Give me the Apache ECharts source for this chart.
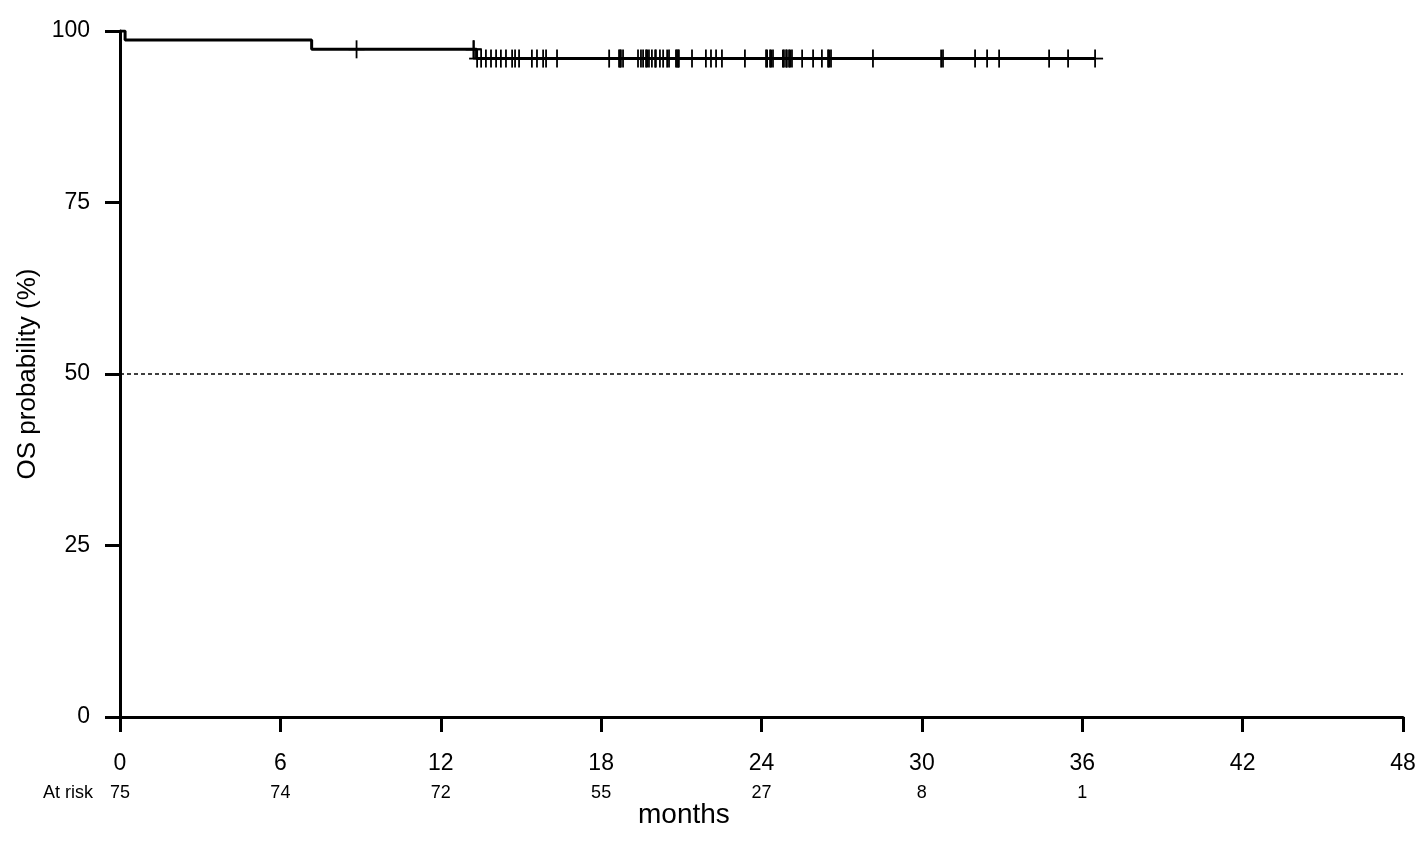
<!DOCTYPE html>
<html>
<head>
<meta charset="utf-8">
<script src="https://cdn.jsdelivr.net/npm/echarts@6/dist/echarts.min.js"></script>
<style>
html,body{margin:0;padding:0;background:#fff;}
#chart{width:1421px;height:851px;}
</style>
</head>
<body>
<div id="chart"></div>
<script>
// Kaplan-Meier step points: [months, OS %]
var kmTimes = [0, 0.19, 7.17, 13.34, 36.48];
var kmSurv  = [100, 98.67, 97.33, 95.98, 95.98];

// censoring times (months)
var censorTimes = [
  8.85, 13.22,
  13.24, 13.36, 13.51, 13.69, 13.88, 14.07, 14.25, 14.44, 14.67, 14.78, 14.93,
  15.41, 15.60, 15.83, 15.94, 16.35,
  18.30, 18.67, 18.71, 18.74, 18.82, 19.38, 19.49, 19.57, 19.68, 19.72, 19.79,
  19.90, 20.02, 20.05, 20.20, 20.32, 20.47, 20.54, 20.80, 20.84, 20.88, 20.91,
  21.40, 21.92, 22.11, 22.30, 22.52, 23.38,
  24.17, 24.21, 24.32, 24.36, 24.43, 24.80, 24.84, 24.92, 24.95, 25.03, 25.07,
  25.14, 25.52, 25.93, 26.26, 26.49, 26.53, 26.60, 28.17,
  30.72, 30.79, 31.99, 32.44, 32.89, 34.76, 35.47, 36.48
];

var xTicks = [0, 6, 12, 18, 24, 30, 36, 42, 48];
var atRisk = [75, 74, 72, 55, 27, 8, 1];
var yTicks = [0, 25, 50, 75, 100];

function survAt(t) {
  var s = kmSurv[0];
  for (var i = 0; i < kmTimes.length; i++) {
    if (kmTimes[i] < t) s = kmSurv[i];
  }
  return s;
}

var kmData = kmTimes.map(function (t, i) { return [t, kmSurv[i]]; });
var censorData = censorTimes.map(function (t) { return [t, survAt(t)]; });

var FONT = '"Liberation Sans", Arial, sans-serif';
var chart = echarts.init(document.getElementById('chart'), null, {renderer: 'canvas'});

chart.setOption({
  backgroundColor: '#fff',
  animation: false,
  grid: {left: 120, right: 18, top: 31, bottom: 134, containLabel: false},
  xAxis: [{
    type: 'value', min: 0, max: 48, interval: 6,
    axisLine: {show: true, onZero: false, lineStyle: {color: '#000', width: 3}},
    axisTick: {show: true, inside: false, length: 15, lineStyle: {color: '#000', width: 3}},
    axisLabel: {color: '#000', fontSize: 23, fontFamily: FONT, margin: 35},
    splitLine: {show: false}
  }, {
    type: 'value', min: 0, max: 48, interval: 6, position: 'bottom', offset: 67,
    axisLine: {show: false}, axisTick: {show: false}, splitLine: {show: false},
    axisLabel: {
      color: '#000', fontSize: 18, fontFamily: FONT, margin: 0,
      formatter: function (v) { var i = xTicks.indexOf(v); return (i >= 0 && i < atRisk.length) ? String(atRisk[i]) : ''; }
    }
  }],
  yAxis: {
    type: 'value', min: 0, max: 100, interval: 25,
    axisLine: {show: true, onZero: false, lineStyle: {color: '#000', width: 3}},
    axisTick: {show: true, inside: false, length: 15, lineStyle: {color: '#000', width: 3}},
    axisLabel: {color: '#000', fontSize: 23, fontFamily: FONT, margin: 30},
    splitLine: {show: false},
    name: 'OS probability (%)', nameLocation: 'middle', nameGap: 79,
    nameTextStyle: {color: '#000', fontSize: 26, fontFamily: FONT}
  },
  graphic: [{
    type: 'text', right: 1328, top: 784,
    style: {text: 'At risk', fill: '#000', font: '18px ' + FONT, textAlign: 'right'}
  }, {
    type: 'text', left: 638, top: 801,
    style: {text: 'months', fill: '#000', font: '28px ' + FONT}
  }],
  series: [{
    type: 'line', data: [[0, 50], [48, 50]], symbol: 'none', silent: true,
    lineStyle: {color: '#000', width: 1.5, type: [4, 3]}
  }, {
    type: 'line', data: kmData, step: 'end', symbol: 'none',
    lineStyle: {color: '#000', width: 3}
  }, {
    type: 'custom', data: censorData,
    renderItem: function (params, api) {
      var p = api.coord([api.value(0), api.value(1)]);
      var st = {stroke: '#000', lineWidth: 1.8};
      return {type: 'group', children: [
        {type: 'line', shape: {x1: p[0] - 8, y1: p[1], x2: p[0] + 8, y2: p[1]}, style: st},
        {type: 'line', shape: {x1: p[0], y1: p[1] - 9, x2: p[0], y2: p[1] + 9}, style: st}
      ]};
    }
  }]
});
</script>
</body>
</html>
